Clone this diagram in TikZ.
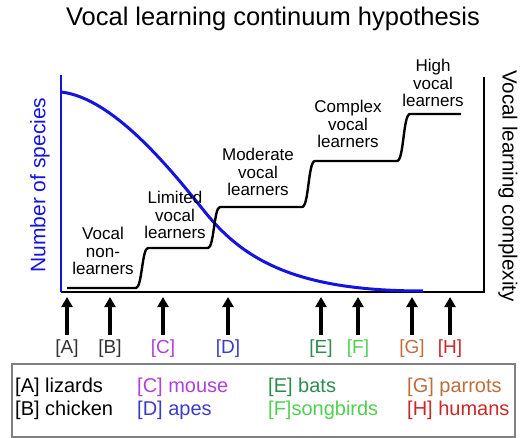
\documentclass[tikz,border=0pt]{standalone}
\usepackage{fontspec}
\setmainfont{Liberation Sans}
\usepackage{xcolor}
\usepackage{tikz}
\usetikzlibrary{arrows.meta}
\definecolor{curveblue}{HTML}{1414E0}
\definecolor{labgray}{HTML}{333333}
\definecolor{mousecol}{HTML}{B040D8}
\definecolor{apecol}{HTML}{3C3CC8}
\definecolor{batcol}{HTML}{2E8B50}
\definecolor{songcol}{HTML}{50D050}
\definecolor{parrotcol}{HTML}{BE6E3C}
\definecolor{humancol}{HTML}{C82828}
\newcommand{\fs}[2]{\fontsize{#1}{#2}\selectfont}

\begin{document}
\begin{tikzpicture}[x=1pt,y=-1pt,
  stage/.style={align=center,inner sep=0pt,font=\fs{17}{17.5}},
  pointer/.style={-{Triangle[width=11pt,length=10pt]},line width=3.2pt},
  tag/.style={font=\fs{19}{20},inner sep=1pt},
  entry/.style={anchor=base west,font=\fs{20}{22},inner sep=0pt}]
\useasboundingbox (0,0) rectangle (521,438);
\node[font=\fs{25.5}{28},anchor=base] (title) at (273,26) {Vocal learning continuum hypothesis};
% axes
\coordinate (orig) at (61,292);
\draw[line width=2.4pt] (orig)--(484,292)--(484,77);
\draw[curveblue,line width=2.4pt] (orig)--(61,75);
\node[curveblue,rotate=90,font=\fs{21}{22}] (ylab) at (40,185) {Number of species};
\node[rotate=-90,font=\fs{20.5}{22}] (zlab) at (508,186) {Vocal learning complexity};
% species curve and complexity steps
\draw[curveblue,line width=3pt] (61,92) .. controls (115,98) and (175,175) .. (205,212)
  .. controls (245,262) and (300,291) .. (423,291);
\draw[line width=2.4pt] (67,288)--(136,288) .. controls (142,288) and (142,248) .. (148,248)
  --(208,248) .. controls (214,248) and (214,207) .. (220,207)
  --(302,207) .. controls (309,207) and (308,161) .. (315,161)
  --(397,161) .. controls (404,161) and (403,114) .. (410,114)--(461,114);
\node[stage] (nonvl) at (103,251) {Vocal\\non-\\learners};
\node[stage] (limvl) at (175,215) {Limited\\vocal\\learners};
\node[stage] (modvl) at (258,172) {Moderate\\vocal\\learners};
\node[stage] (comvl) at (348,124) {Complex\\vocal\\learners};
\node[stage] (higvl) at (433,83) {High\\vocal\\learners};
% species pointers
\foreach \n/\xx/\cc in {A/67/labgray,B/110/labgray,C/163/mousecol,D/228/apecol,E/321/batcol,F/358/songcol,G/412/parrotcol,H/450/humancol}{
  \node[tag,text=\cc] (l\n) at (\xx,349) {[\n]};
  \coordinate (t\n) at (\xx,297);
  \draw[pointer] ([yshift=4pt]l\n.north)--(t\n);}
% legend
\draw[gray,line width=1.5pt] (12,364) rectangle (515,437);
\node[entry] (kA) at (15,392) {[A] lizards};
\node[entry] (kB) at (15,415) {[B] chicken};
\node[entry,mousecol] (kC) at (137,392) {[C] mouse};
\node[entry,apecol] (kD) at (137,415) {[D] apes};
\node[entry,batcol] (kE) at (268,392) {[E] bats};
\node[entry,songcol] (kF) at (268,415) {[F]songbirds};
\node[entry,parrotcol] (kG) at (407,392) {[G] parrots};
\node[entry,humancol] (kH) at (407,415) {[H] humans};
\end{tikzpicture}
\end{document}
